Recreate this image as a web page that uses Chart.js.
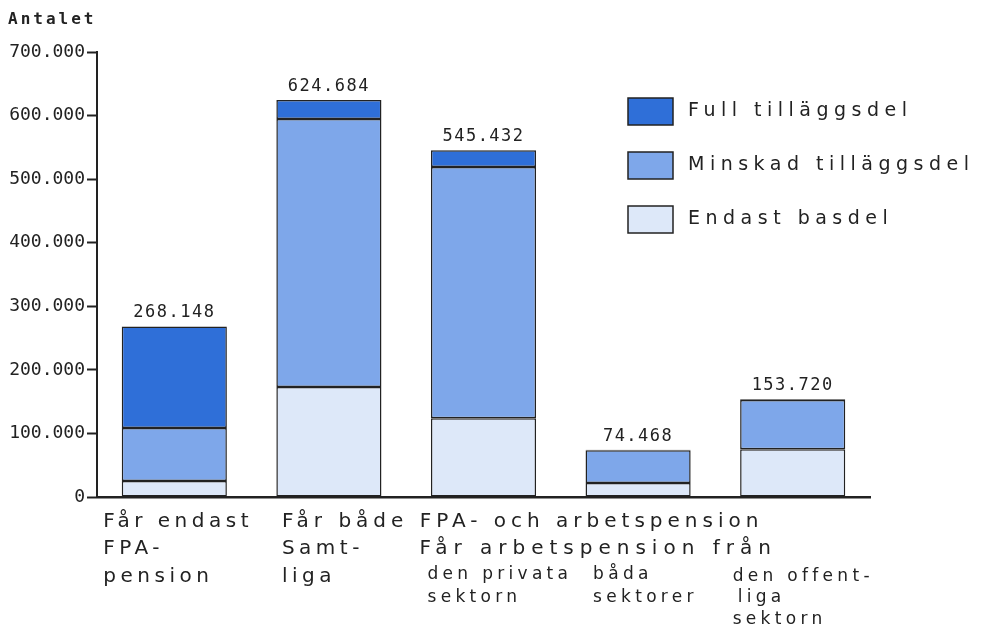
<!DOCTYPE html>
<html>
<head>
<meta charset="utf-8">
<script src="https://cdn.jsdelivr.net/npm/chart.js@4/dist/chart.umd.min.js"></script>
<style>
  html, body { margin: 0; padding: 0; background: #fff; }
  #wrap { width: 984px; height: 629px; }
</style>
</head>
<body>
<div id="wrap"><canvas id="chart" width="984" height="629"></canvas></div>
<script>
// Data
const categories = ['endastFPA', 'samtliga', 'privata', 'bada', 'offentliga'];
const endastBasdel = [25000, 173000, 124000, 22000, 75000];
const minskadTillagg = [83500, 421600, 395000, 51500, 77700];
const fullTillagg = [159648, 30084, 26432, 968, 1020];
const totalLabels = ['268.148', '624.684', '545.432', '74.468', '153.720'];
const yTicks = [0, 100000, 200000, 300000, 400000, 500000, 600000, 700000];

const seriesNames = ['Full tilläggsdel', 'Minskad tilläggsdel', 'Endast basdel'];
const colors = {
    full: '#2f6fd8',
    minskad: '#7ea7ea',
    endast: '#dde8f9'
};

function fmt(v) {
    return v === 0 ? '0' : v.toLocaleString('en-US').replace(/,/g, '.');
}

// Draws the title, values, legend and the multi-line category text
const decorations = {
    id: 'decorations',
    afterDraw(chart) {
        const ctx = chart.ctx;
        const x = chart.scales.x;
        const y = chart.scales.y;
        ctx.save();
        ctx.fillStyle = '#222';

        // axis title
        ctx.font = 'bold 16px "DejaVu Sans Mono"';
        ctx.letterSpacing = '3px';
        ctx.textAlign = 'left';
        ctx.textBaseline = 'middle';
        ctx.fillText('Antalet', 8, 20);

        // totals above bars
        ctx.textAlign = 'center';
        ctx.textBaseline = 'bottom';
        ctx.font = '17px "DejaVu Sans Mono"';
        ctx.letterSpacing = '1.5px';
        categories.forEach((c, i) => {
            const total = endastBasdel[i] + minskadTillagg[i] + fullTillagg[i];
            ctx.fillText(totalLabels[i], x.getPixelForValue(i), y.getPixelForValue(total) - 5);
        });

        // legend
        const legendColors = [colors.full, colors.minskad, colors.endast];
        ctx.font = '19px "DejaVu Sans"';
        ctx.letterSpacing = '5.5px';
        ctx.textAlign = 'left';
        ctx.textBaseline = 'middle';
        seriesNames.forEach((name, i) => {
            const top = 98 + i * 54;
            ctx.fillStyle = legendColors[i];
            ctx.fillRect(628, top, 45, 27);
            ctx.strokeStyle = '#222';
            ctx.lineWidth = 1.5;
            ctx.strokeRect(628, top, 45, 27);
            ctx.fillStyle = '#222';
            ctx.fillText(name, 688, top + 13);
        });

        // category text
        ctx.font = '20px "DejaVu Sans"';
        ctx.letterSpacing = '4.5px';
        ctx.textBaseline = 'middle';
        const cx = i => x.getPixelForValue(i);
        const lines = [
            ['Får endast', cx(0) - 71, 522],
            ['FPA-', cx(0) - 71, 549],
            ['pension', cx(0) - 71, 577],
            ['Samt-', cx(1) - 47, 549],
            ['liga', cx(1) - 47, 577]
        ];
        lines.forEach(l => ctx.fillText(l[0], l[1], l[2]));
        ctx.letterSpacing = '5px';
        ctx.fillText('Får både FPA- och arbetspension', cx(1) - 47, 522);
        ctx.letterSpacing = '6px';
        ctx.fillText('Får arbetspension från', cx(2) - 64, 549);
        ctx.font = '17px "DejaVu Sans"';
        ctx.letterSpacing = '4.3px';
        const small = [
            ['den privata', cx(2) - 56, 575],
            ['sektorn', cx(2) - 56, 598],
            ['båda', cx(3) - 45, 575],
            ['sektorer', cx(3) - 45, 598],
            ['den offent-', cx(4) - 60, 577],
            ['liga', cx(4) - 55, 598],
            ['sektorn', cx(4) - 60, 620]
        ];
        small.forEach(l => ctx.fillText(l[0], l[1], l[2]));
        ctx.restore();
    }
};

const barStyle = {
    borderColor: '#222',
    borderWidth: 1.5,
    borderSkipped: false,
    barPercentage: 0.68,
    categoryPercentage: 1.0
};

new Chart(document.getElementById('chart'), {
    type: 'bar',
    data: {
        labels: categories,
        datasets: [
            Object.assign({ label: seriesNames[2], data: endastBasdel, backgroundColor: colors.endast }, barStyle),
            Object.assign({ label: seriesNames[1], data: minskadTillagg, backgroundColor: colors.minskad }, barStyle),
            Object.assign({ label: seriesNames[0], data: fullTillagg, backgroundColor: colors.full }, barStyle)
        ]
    },
    options: {
        responsive: false,
        animation: false,
        layout: { padding: { top: 52, right: 114, left: 0, bottom: 0 } },
        plugins: {
            legend: { display: false },
            tooltip: { enabled: false }
        },
        scales: {
            x: {
                stacked: true,
                grid: { display: false, drawTicks: false },
                border: { color: '#222', width: 2.5 },
                ticks: { display: false },
                afterFit(scale) { scale.height = 132; }
            },
            y: {
                stacked: true,
                min: 0,
                max: 700000,
                afterBuildTicks(scale) { scale.ticks = yTicks.map(v => ({ value: v })); },
                afterFit(scale) { scale.width = 97; },
                grid: { drawOnChartArea: false, tickLength: 10, color: '#222', tickWidth: 2 },
                border: { color: '#222', width: 2 },
                ticks: {
                    color: '#222',
                    padding: 2,
                    font: { family: 'DejaVu Sans Mono', size: 18 },
                    callback: v => fmt(v)
                }
            }
        }
    },
    plugins: [decorations]
});
</script>
</body>
</html>
